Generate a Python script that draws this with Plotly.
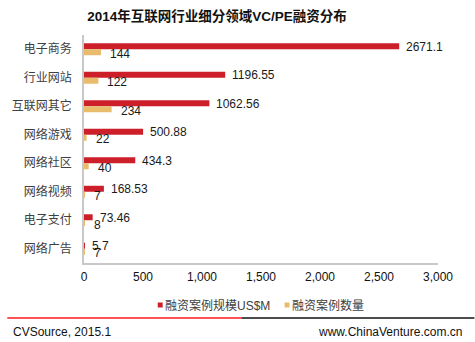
import plotly.graph_objects as go

# 2014 internet sub-sector VC/PE financing
categories = ["电子商务", "行业网站", "互联网其它", "网络游戏", "网络社区", "网络视频", "电子支付", "网络广告"]
amount_usd_m = [2671.1, 1196.55, 1062.56, 500.88, 434.3, 168.53, 73.46, 5.7]
deal_count = [144, 122, 234, 22, 40, 7, 8, 7]
x_ticks = [0, 500, 1000, 1500, 2000, 2500, 3000]
x_tick_labels = ["0", "500", "1,000", "1,500", "2,000", "2,500", "3,000"]

RED = "#CC1F2A"
GOLD = "#E9BC6C"
FONT = "Liberation Sans, Arial, Noto Sans CJK SC, sans-serif"
W, H = 475, 342
L, R, T, B = 78, 438, 35, 263  # plot area in pixels


def px(xp):
    return (xp - L) / (R - L)


def py(yp):
    return (B - yp) / (B - T)


fig = go.Figure()
fig.add_trace(go.Bar(
    y=categories, x=amount_usd_m, orientation="h", name="融资案例规模US$M",
    marker=dict(color=RED, line=dict(width=0)), showlegend=False,
))
fig.add_trace(go.Bar(
    y=categories, x=deal_count, orientation="h", name="融资案例数量",
    marker=dict(color=GOLD, line=dict(width=0)), showlegend=False,
))

shapes = []
annotations = []

# value labels: amount sits beside the red bar, count just below beside the gold bar
for cat, amt, cnt in zip(categories, amount_usd_m, deal_count):
    annotations.append(dict(text=str(amt), x=amt, y=cat, xref="x", yref="y",
                            xanchor="left", yanchor="middle", xshift=5, yshift=2.5,
                            showarrow=False, font=dict(size=12, color="#1a1a1a", family=FONT)))
    annotations.append(dict(text=str(cnt), x=cnt, y=cat, xref="x", yref="y",
                            xanchor="left", yanchor="middle", xshift=7, yshift=-4.5,
                            showarrow=False, font=dict(size=12, color="#1a1a1a", family=FONT)))

# legend: small squares with labels
legend_items = [(153, "融资案例规模US$M", RED), (282, "融资案例数量", GOLD)]
for x0, label, color in legend_items:
    shapes.append(dict(type="rect", xref="paper", yref="paper",
                       x0=px(x0), x1=px(x0 + 5), y0=py(307.5), y1=py(302.5),
                       fillcolor=color, line=dict(width=0)))
    annotations.append(dict(text=label, xref="paper", yref="paper",
                            x=px(x0 + 5), y=py(305), xanchor="left", yanchor="middle",
                            showarrow=False, font=dict(size=12, color="#404040", family=FONT)))

# footer rule: red then black
shapes.append(dict(type="line", xref="paper", yref="paper",
                   x0=px(0), x1=px(238), y0=py(318), y1=py(318),
                   line=dict(color="#FF1A1A", width=1.5)))
shapes.append(dict(type="line", xref="paper", yref="paper",
                   x0=px(238), x1=px(475), y0=py(318), y1=py(318),
                   line=dict(color="#111111", width=1.5)))

annotations.append(dict(text="CVSource, 2015.1", xref="paper", yref="paper",
                        x=px(4), y=py(332), xanchor="left", yanchor="middle",
                        showarrow=False, font=dict(size=12, color="#111111", family=FONT)))
annotations.append(dict(text="www.ChinaVenture.com.cn", xref="paper", yref="paper",
                        x=px(464), y=py(332), xanchor="right", yanchor="middle",
                        showarrow=False, font=dict(size=12, color="#111111", family=FONT)))

fig.update_layout(
    width=W, height=H,
    margin=dict(l=L, r=W - R, t=T, b=H - B, pad=0),
    paper_bgcolor="white", plot_bgcolor="white",
    barmode="group", bargap=0.58, bargroupgap=0,
    font=dict(family=FONT, size=12, color="#111111"),
    title=dict(text="<b>2014年互联网行业细分领域VC/PE融资分布</b>",
               x=217 / W, xanchor="center", y=1 - 16 / H, yanchor="middle",
               font=dict(size=13.5, color="#111111",
                         family="Liberation Sans, Noto Sans CJK SC, sans-serif")),
    xaxis=dict(range=[0, 3000], tickvals=x_ticks, ticktext=x_tick_labels,
               showgrid=False, zeroline=False, showline=True, linecolor="#C8C8C8",
               linewidth=1.5, ticks="", ticklabelstandoff=2,
               tickfont=dict(size=12, color="#111111"), fixedrange=True),
    yaxis=dict(autorange="reversed", showgrid=False, zeroline=False, showline=True,
               linecolor="#C8C8C8", linewidth=1.5, ticks="", ticklabelstandoff=8,
               tickfont=dict(size=12, color="#404040"), fixedrange=True),
    shapes=shapes, annotations=annotations,
)

fig.write_html("out.html")
